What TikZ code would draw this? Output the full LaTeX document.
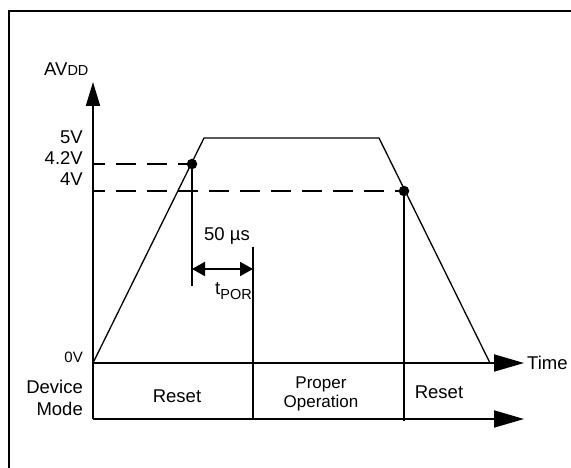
\documentclass[tikz,border=0pt]{standalone}
\usepackage{fontspec}
\setmainfont{Liberation Sans}
\usetikzlibrary{arrows.meta}
\begin{document}
\begin{tikzpicture}[x=1pt,y=-1pt,
  axis/.style={line width=2pt},
  sig/.style={line width=1.3pt, line join=miter},
  dashln/.style={line width=1.8pt, dash pattern=on 20pt off 11pt, dash phase=8pt},
  bigarrow/.style={-{Triangle[length=30pt,width=17pt]}},
  dotmark/.style={circle, fill=black, inner sep=0pt, minimum size=10.5pt},
  txt/.style={inner sep=0pt, font=\fontsize{18.5}{22}\selectfont}]
\useasboundingbox (0,0) rectangle (571,468);
\draw[line width=2pt] (9,468) -- (9,11) -- (571,11);

\coordinate (O) at (93,363);
\coordinate (Ytop) at (93,82);
\coordinate (Ybot) at (93,419);
\coordinate (Tend) at (524,363);
\coordinate (Mend) at (524,419);
\coordinate (P1) at (204,138);
\coordinate (P2) at (379,138);
\coordinate (P3) at (490,363);
\coordinate (d1s) at (93,164);
\coordinate (d2s) at (93,191);
\coordinate (d1c) at (192,164);
\coordinate (d2c) at (404,191);
\coordinate (v1b) at (192,286);
\coordinate (v2t) at (253,247);
\coordinate (v2b) at (253,419);
\coordinate (v3b) at (404,421);
\coordinate (a1) at (192,269);
\coordinate (a2) at (253,269);

\draw[axis, -{Triangle[length=24pt,width=14pt]}] (Ybot) -- (Ytop);
\draw[axis, bigarrow] (O) -- (Tend);
\draw[axis, bigarrow] (Ybot) -- (Mend);
\draw[sig] (O) -- (P1) -- (P2) -- (P3);
\draw[dashln] (d1s) -- (d1c);
\draw[dashln] (d2s) -- (d2c);
\draw[axis] (d1c) -- (v1b);
\draw[axis] (v2t) -- (v2b);
\draw[axis] (d2c) -- (v3b);
\draw[axis, {Triangle[length=13pt,width=14pt]}-{Triangle[length=13pt,width=14pt]}] (a1) -- (a2);
\node[dotmark] (d1) at (d1c) {};
\node[dotmark] (d2) at (d2c) {};

\node[txt, anchor=west] (avdd) at (44,69) {AV\raisebox{-0.5pt}{\fontsize{14.5}{14.5}\selectfont DD}};
\node[txt, anchor=east] (v5) at (83,137) {5V};
\node[txt, anchor=east] (v42) at (83,158) {4.2V};
\node[txt, anchor=east] (v4) at (83,179) {4V};
\node[inner sep=0pt, font=\fontsize{15}{15}\selectfont, anchor=east] (v0) at (83,357) {0V};
\node[txt, anchor=east, align=right] (dm) at (83,398) {Device\\Mode};
\node[txt, anchor=west] (time) at (527,363) {Time};
\node[txt] (r1) at (177,396) {Reset};
\node[txt, align=center, font=\fontsize{17}{19}\selectfont] (po) at (321,394) {Proper\\Operation};
\node[txt] (r2) at (439,392) {Reset};
\node[txt] (us) at (227,236) {50 µs};
\node[txt, anchor=west] (tpor) at (215,291) {t\raisebox{-4.5pt}{\fontsize{14.5}{14.5}\selectfont POR}};
\end{tikzpicture}
\end{document}
